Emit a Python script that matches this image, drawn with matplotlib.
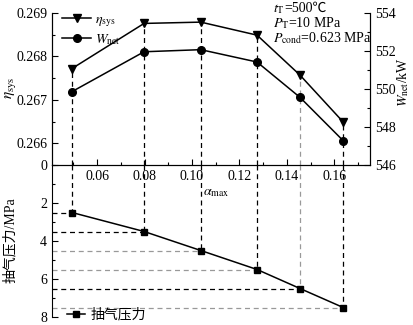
import matplotlib
matplotlib.use('Agg')
import matplotlib.pyplot as plt
from matplotlib.ticker import MultipleLocator, FormatStrFormatter
from matplotlib.lines import Line2D

plt.rcParams['font.family'] = ['Liberation Serif', 'Noto Sans CJK SC']
plt.rcParams['mathtext.fontset'] = 'stix'
plt.rcParams['font.size'] = 10

# data
alpha_max = [0.0494, 0.0798, 0.1037, 0.1274, 0.1455, 0.1637]
eta_sys = [0.26772, 0.26876, 0.26879, 0.26849, 0.26757, 0.26649]
w_net = [549.86, 551.96, 552.07, 551.42, 549.56, 547.28]
p_extract = [2.5, 3.5, 4.5, 5.5, 6.5, 7.5]
x_ticks = [0.06, 0.08, 0.10, 0.12, 0.14, 0.16]
eta_ticks = [0.266, 0.267, 0.268, 0.269]
w_ticks = [546, 548, 550, 552, 554]
p_ticks = [0, 2, 4, 6, 8]

# guide line colours
vcol = ['black', 'black', 'black', 'black', '#999999', 'black']
hcol = ['black', 'black', '#999999', '#999999', 'black', '#999999']

W, H = 414, 325
fig = plt.figure(figsize=(W / 100, H / 100), dpi=100)
left, right = 52, 370
top, mid, bot = 13, 165, 317
ax = fig.add_axes([left / W, 1 - mid / H, (right - left) / W, (mid - top) / H])
axb = fig.add_axes([left / W, 1 - bot / H, (right - left) / W, (bot - mid) / H], sharex=ax)
ax2 = ax.twinx()
for a in (ax, axb):
    a.patch.set_visible(False)

xlo, xhi = 0.041, 0.175
eta_lo = 0.2655
dash = (0, (4, 3))

# top part
ax.plot(alpha_max, eta_sys, color='black', lw=1.1, marker='v', ms=5.5, zorder=3)
ax2.plot(alpha_max, w_net, color='black', lw=1.1, marker='o', ms=5.5, zorder=3)
ax.vlines(alpha_max, eta_lo, eta_sys, colors=vcol, linestyles=dash, lw=0.9, zorder=1)

ax.set_xlim(xlo, xhi)
ax.set_ylim(eta_lo, 0.269)
ax.set_yticks(eta_ticks)
ax.yaxis.set_major_formatter(FormatStrFormatter('%.3f'))
ax.yaxis.set_minor_locator(MultipleLocator(0.0005))
ax.set_xticks(x_ticks)
ax.set_xticklabels(['%.2f' % v for v in x_ticks])
ax.xaxis.set_minor_locator(MultipleLocator(0.01))
ax.spines['top'].set_visible(False)
ax.tick_params(which='both', direction='in', top=False, width=0.8)
ax.tick_params(which='major', length=4)
ax.tick_params(which='minor', length=2)

ax2.set_ylim(546, 554)
ax2.set_yticks(w_ticks)
ax2.yaxis.set_minor_locator(MultipleLocator(1))
ax2.spines['top'].set_visible(False)
ax2.tick_params(which='both', direction='in', width=0.8)
ax2.tick_params(which='major', length=4)
ax2.tick_params(which='minor', length=2)

# bottom part
axb.plot(alpha_max, p_extract, color='black', lw=1.1, marker='s', ms=4.5, zorder=3)
axb.vlines(alpha_max, 0, p_extract, colors=vcol, linestyles=dash, lw=0.9, zorder=1)
axb.hlines(p_extract, xlo, alpha_max, colors=hcol, linestyles=dash, lw=0.9, zorder=1)
axb.set_ylim(8, 0)
axb.set_yticks(p_ticks)
axb.yaxis.set_minor_locator(MultipleLocator(1))
for s in ('top', 'right', 'bottom'):
    axb.spines[s].set_visible(False)
axb.tick_params(axis='x', which='both', bottom=False, labelbottom=False)
axb.tick_params(axis='y', which='both', direction='in', width=0.8)
axb.tick_params(axis='y', which='major', length=4)
axb.tick_params(axis='y', which='minor', length=2)

# legends
h1 = Line2D([], [], color='black', lw=1.1, marker='v', ms=5.5)
h2 = Line2D([], [], color='black', lw=1.1, marker='o', ms=5.5)
ax2.legend([h1, h2], [r'$\eta_\mathrm{sys}$', r'$W_\mathrm{net}$'], loc='upper left',
           bbox_to_anchor=(55 / W, 1 - 6 / H), bbox_transform=fig.transFigure,
           frameon=False, borderpad=0, handlelength=2.1, handletextpad=0.25,
           labelspacing=0.25)
h3 = Line2D([], [], color='black', lw=1.1, marker='s', ms=4.5)
axb.legend([h3], ['抽气压力'], loc='center left',
           bbox_to_anchor=(60 / W, 1 - 315 / H), bbox_transform=fig.transFigure,
           frameon=False, borderpad=0, handlelength=1.3, handletextpad=0.4)

# labels and notes
fig.text(10 / W, 1 - 88 / H, r'$\eta_\mathrm{sys}$', rotation=90, ha='center', va='center',
         fontsize=11)
fig.text(403 / W, 1 - 82 / H, r'$W_\mathrm{net}$/kW', rotation=90, ha='center', va='center')
fig.text(10 / W, 1 - 240 / H, '抽气压力/MPa', rotation=90, ha='center', va='center')
fig.text(216 / W, 1 - 193 / H, r'$\alpha_\mathrm{max}$', ha='center', va='center')
# mathtext can't fall back to the CJK font for ℃, so the rest goes in a second text
t1 = fig.text(273 / W, 1 - 12 / H, r'$t_\mathrm{T}$', ha='left', va='baseline')
ax.annotate('=500℃', xy=(1, 1 - 12 / H), xycoords=(t1, 'figure fraction'),
            ha='left', va='baseline', annotation_clip=False)
fig.text(273 / W, 1 - 27 / H, r'$P_\mathrm{T}$=10 MPa', ha='left', va='baseline')
fig.text(273 / W, 1 - 42 / H, r'$P_\mathrm{cond}$=0.623 MPa', ha='left', va='baseline')

fig.savefig('out.png', dpi=100)
